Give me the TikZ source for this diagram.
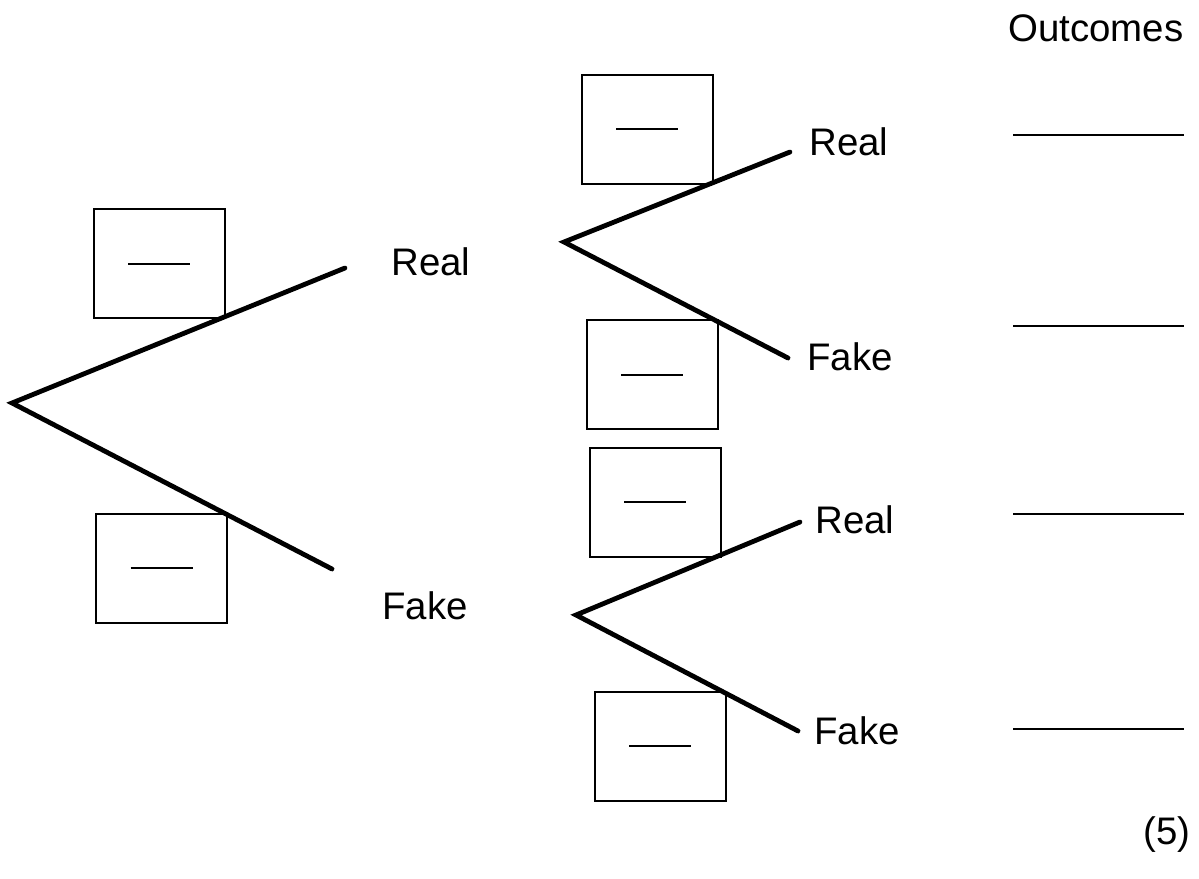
\documentclass[tikz,border=0pt]{standalone}
\usepackage{fontspec}
\setmainfont{Liberation Sans}
\begin{document}
\begin{tikzpicture}[x=0.5pt,y=-0.5pt,
  branch/.style={line width=2.4pt, line cap=round},
  probbox/.style={draw, line width=1pt, minimum width=65.5pt, minimum height=54.5pt, inner sep=0pt},
  blank/.style={line width=1pt},
  outline/.style={line width=0.9pt},
  lbl/.style={font=\fontsize{19.2}{22}\selectfont, inner sep=0pt, text height=13.7pt, text depth=0pt}]
\useasboundingbox (0,0) rectangle (1199,878);
% junction points
\coordinate (r0) at (12,403);
\coordinate (a) at (345,268);
\coordinate (b) at (332,569);
\coordinate (f1) at (564,242);
\coordinate (f1a) at (790,152);
\coordinate (f1b) at (788,358);
\coordinate (f2) at (576,615);
\coordinate (f2a) at (800,522);
\coordinate (f2b) at (798,731);
% probability boxes
\node[probbox] (p1) at (159,263.5) {};
\node[probbox] (p2) at (161.5,568) {};
\node[probbox] (p3) at (647,129) {};
\node[probbox] (p4) at (652,374.5) {};
\node[probbox] (p5) at (655,502) {};
\node[probbox] (p6) at (660,746) {};
\foreach \p in {p1,p2,p3,p4,p5,p6}{
  \draw[blank] ([xshift=-15.5pt]\p.center) -- ([xshift=15.5pt]\p.center);
}
% branches
\draw[branch] (a) -- (r0) -- (b);
\draw[branch] (f1a) -- (f1) -- (f1b);
\draw[branch] (f2a) -- (f2) -- (f2b);
% labels
\node[lbl] (real1) at (431,262) {Real};
\node[lbl] (fake1) at (425,606) {Fake};
\node[lbl] (rr) at (849,142) {Real};
\node[lbl] (rf) at (850,357) {Fake};
\node[lbl] (fr) at (855,520) {Real};
\node[lbl] (ff) at (857,731) {Fake};
\node[lbl] (outc) at (1096,28) {Outcomes};
\node[lbl] (marks) at (1167,831) {(5)};
% outcome lines
\coordinate (o1l) at (1013,135); \coordinate (o1r) at (1184,135);
\coordinate (o2l) at (1013,326); \coordinate (o2r) at (1184,326);
\coordinate (o3l) at (1013,514); \coordinate (o3r) at (1184,514);
\coordinate (o4l) at (1013,729); \coordinate (o4r) at (1184,729);
\draw[outline] (o1l) -- (o1r);
\draw[outline] (o2l) -- (o2r);
\draw[outline] (o3l) -- (o3r);
\draw[outline] (o4l) -- (o4r);
\end{tikzpicture}
\end{document}
